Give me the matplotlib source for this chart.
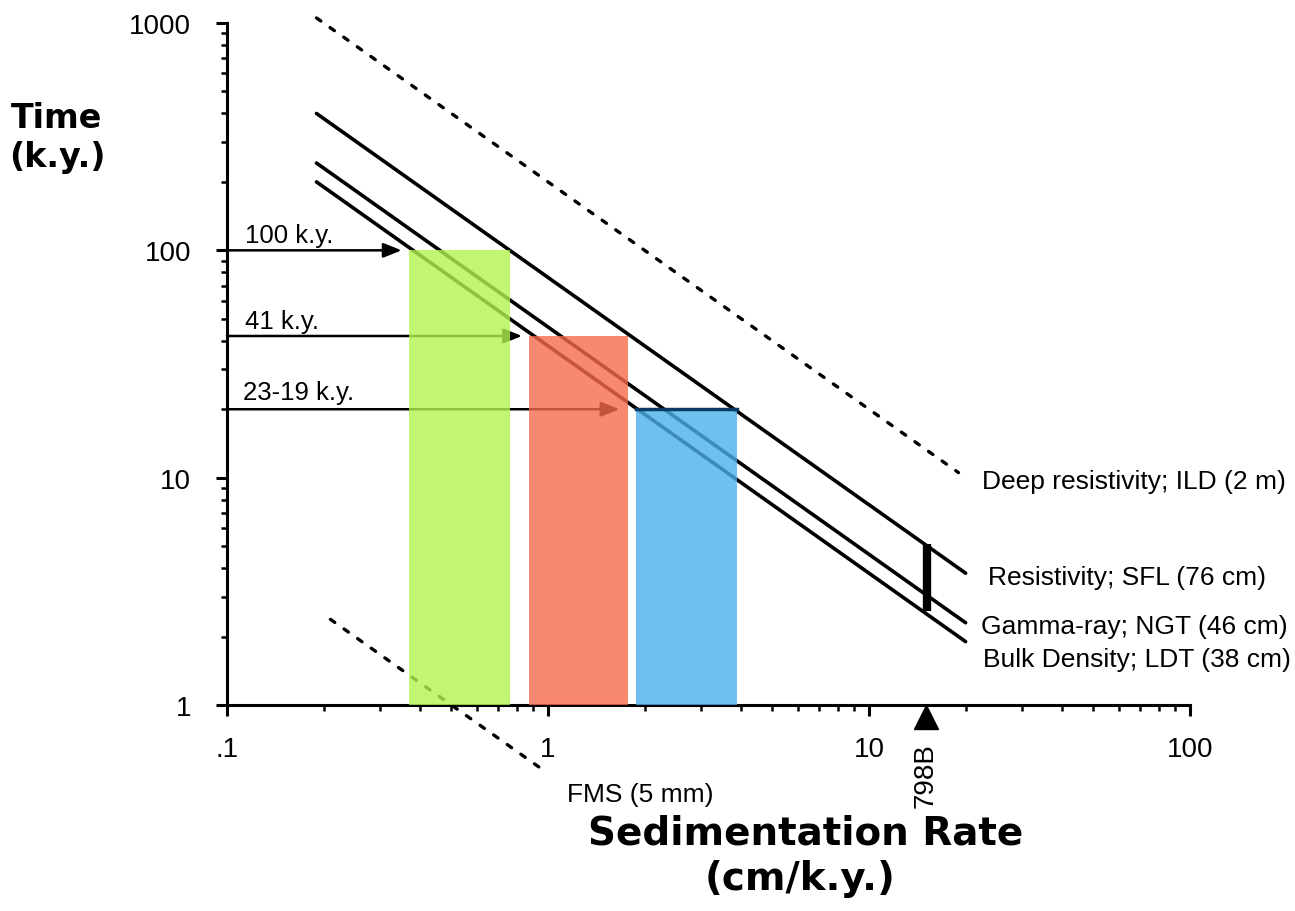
import numpy as np
import matplotlib
matplotlib.use("Agg")
import matplotlib.pyplot as plt
from matplotlib.ticker import LogLocator, NullFormatter

plt.rcParams['font.family'] = ['Liberation Sans', 'DejaVu Sans']

# tool resolution (vertical thickness, cm) -> time = thickness / rate
tool_names = ["Deep resistivity; ILD (2 m)", "Resistivity; SFL (76 cm)",
              "Gamma-ray; NGT (46 cm)", "Bulk Density; LDT (38 cm)", "FMS (5 mm)"]
tool_cm = [200, 76, 46, 38, 0.5]
tool_xmin = [0.19, 0.19, 0.19, 0.19, 0.21]
tool_xmax = [19, 20, 20, 20, 1.0]
tool_dashed = [True, False, False, False, True]
label_pos = [(982, 482), (988, 578), (981, 627), (983, 660), (567, 795)]

# orbital cycles
cycle_labels = ["100 k.y.", "41 k.y.", "23-19 k.y."]
cycle_time = [100, 42, 20]
arrow_end = [0.35, 0.83, 1.67]
box_left = [0.37, 0.87, 1.88]
box_right = [0.76, 1.77, 3.88]
box_colors = ["#b3f44e", "#f86a4e", "#4bafeb"]
cycle_label_pos = [(245, 236), (245, 322), (243, 393)]

# site 798B
site_rate = 15.2
site_range = [2.6, 5.1]

W, H = 1295, 912
fig = plt.figure(figsize=(W / 100, H / 100), dpi=100)
ax = fig.add_axes([227 / W, 1 - 706 / H, (1190 - 227) / W, (706 - 24) / H])
ax.set_xscale('log')
ax.set_yscale('log')
ax.set_xlim(0.1, 100)
ax.set_ylim(1, 1000)

for k, x0, x1, d in zip(tool_cm, tool_xmin, tool_xmax, tool_dashed):
    x = np.array([x0, x1])
    if d:
        ax.plot(x, k / x, color='black', lw=2.4, linestyle=(0, (1.6, 3.4)),
                dash_capstyle='round', clip_on=False, zorder=3)
    else:
        ax.plot(x, k / x, color='black', lw=2.6, solid_capstyle='round',
                clip_on=False, zorder=3)

for t, xe, l, r, c in zip(cycle_time, arrow_end, box_left, box_right, box_colors):
    ax.annotate("", xy=(xe, t), xytext=(0.1, t),
                arrowprops=dict(arrowstyle='-|>,head_length=0.5,head_width=0.2',
                                color='black', lw=1.8,
                                mutation_scale=22, shrinkA=0, shrinkB=0),
                zorder=3)
    ax.fill_between([l, r], [1, 1], [t, t], color=c, alpha=0.8,
                    linewidth=0, zorder=4)
# dark top edge of the blue box
ax.plot([box_left[2], box_right[2]], [cycle_time[2], cycle_time[2]],
        color='#0b3a66', lw=2.5, zorder=5)

for s, (px, py) in zip(cycle_labels, cycle_label_pos):
    fig.text(px / W, 1 - py / H, s, fontsize=18.5, ha='left', va='center')
for s, (px, py) in zip(tool_names, label_pos):
    fig.text(px / W, 1 - py / H, s, fontsize=19, ha='left', va='center')

ax.plot([site_rate, site_rate], site_range, color='black', lw=6,
        solid_capstyle='butt', zorder=3)
ax.plot([15], [0.885], marker='^', color='black', ms=17, clip_on=False)
ax.text(15, 0.495, "798B", rotation=90, fontsize=20, ha='center',
        va='center', clip_on=False)

for side in ['top', 'right']:
    ax.spines[side].set_visible(False)
for side in ['left', 'bottom']:
    ax.spines[side].set_linewidth(2.2)

ax.set_xticks([0.1, 1, 10, 100], ['.1', '1', '10', '100'])
ax.set_yticks([1, 10, 100, 1000], ['1', '10', '100', '1000'])
ax.xaxis.set_minor_locator(LogLocator(base=10, subs=np.arange(2, 10)))
ax.yaxis.set_minor_locator(LogLocator(base=10, subs=np.arange(2, 10)))
ax.xaxis.set_minor_formatter(NullFormatter())
ax.yaxis.set_minor_formatter(NullFormatter())
ax.tick_params(which='major', direction='out', length=8, width=2.2,
               labelsize=20)
ax.tick_params(axis='y', which='major', pad=18)
ax.tick_params(axis='x', which='major', pad=14)
ax.tick_params(which='minor', direction='out', length=4, width=1.8)

fig.text(57 / W, 1 - 118 / H, "Time", fontsize=24, fontweight='bold',
         ha='center', va='center', family='DejaVu Sans')
fig.text(57 / W, 1 - 158 / H, "(k.y.)", fontsize=24, fontweight='bold',
         ha='center', va='center', family='DejaVu Sans')
fig.text(806 / W, 1 - 834 / H, "Sedimentation Rate", fontsize=28,
         fontweight='bold', ha='center', va='center', family='DejaVu Sans')
fig.text(800 / W, 1 - 879 / H, "(cm/k.y.)", fontsize=28, fontweight='bold',
         ha='center', va='center', family='DejaVu Sans')

fig.savefig("out.png", dpi=100)
